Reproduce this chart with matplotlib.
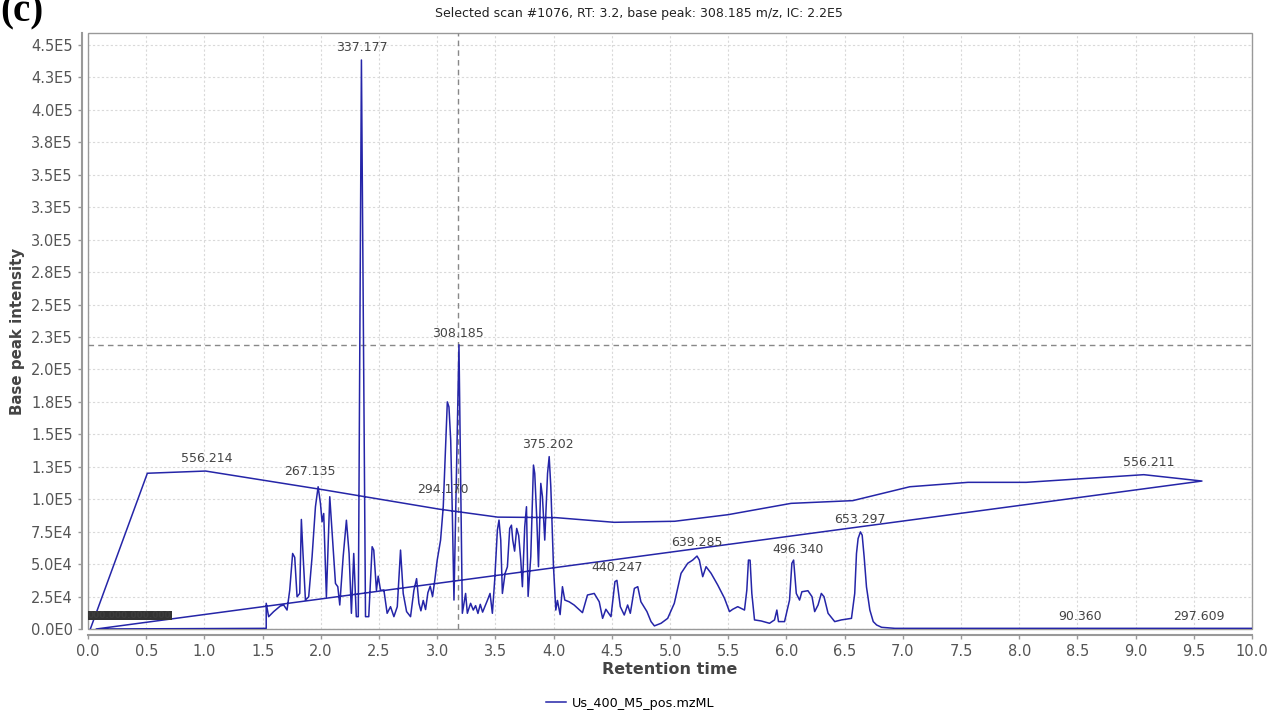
import matplotlib
matplotlib.use('Agg')
import matplotlib.pyplot as plt
from matplotlib.patches import Rectangle

# --- data (RT in min, base peak intensity in 1e3 counts)
# scans that are drawn out of order: they make the big loop across the plot
loop_rt = [0.02, 0.51, 1.01, 1.52, 2.02, 2.52, 3.02, 3.52, 4.02, 4.52, 5.04, 5.50,
           6.04, 6.57, 7.06, 7.56, 8.06, 9.07, 9.57, 0.07, 1.531]
loop_bpi = [0, 120.0, 121.7, 114.4, 107.3, 99.8, 92.3, 86.2, 85.8, 82.2, 83.0, 88.1,
            96.8, 98.9, 109.6, 113.0, 113.0, 118.9, 114.0, 0, 0.5]

# the real trace
trace_rt = [1.531, 1.531, 1.552, 1.595, 1.652, 1.681, 1.710, 1.733, 1.758, 1.776, 1.796,
            1.819, 1.833, 1.847, 1.868, 1.896, 1.925, 1.954, 1.977, 1.997, 2.011, 2.025,
            2.048, 2.077, 2.100, 2.126, 2.146, 2.163, 2.192, 2.220, 2.243, 2.263, 2.283,
            2.305, 2.322, 2.349, 2.384, 2.412, 2.441, 2.455, 2.478, 2.493, 2.513, 2.542,
            2.570, 2.599, 2.628, 2.657, 2.685, 2.708, 2.737, 2.771, 2.800, 2.823, 2.843,
            2.860, 2.880, 2.900, 2.920, 2.940, 2.960, 2.980, 3.000, 3.029, 3.052, 3.072,
            3.087, 3.101, 3.116, 3.130, 3.144, 3.187, 3.216, 3.244, 3.259, 3.287, 3.310,
            3.330, 3.350, 3.370, 3.390, 3.431, 3.454, 3.474, 3.494, 3.517, 3.531, 3.546,
            3.560, 3.583, 3.603, 3.623, 3.638, 3.649, 3.665, 3.683, 3.700, 3.718, 3.732,
            3.752, 3.767, 3.781, 3.804, 3.827, 3.838, 3.856, 3.870, 3.890, 3.904, 3.924,
            3.948, 3.962, 3.976, 3.999, 4.019, 4.033, 4.056, 4.076, 4.096, 4.133, 4.176,
            4.248, 4.291, 4.349, 4.392, 4.421, 4.449, 4.493, 4.527, 4.544, 4.573, 4.607,
            4.636, 4.659, 4.694, 4.723, 4.750, 4.802, 4.837, 4.866, 4.923, 4.980, 5.037,
            5.095, 5.152, 5.195, 5.232, 5.252, 5.281, 5.310, 5.353, 5.410, 5.468, 5.511,
            5.539, 5.582, 5.640, 5.660, 5.674, 5.688, 5.703, 5.726, 5.783, 5.855, 5.898,
            5.918, 5.932, 5.984, 6.027, 6.047, 6.062, 6.085, 6.113, 6.133, 6.185, 6.220,
            6.243, 6.272, 6.300, 6.323, 6.358, 6.415, 6.472, 6.559, 6.587, 6.602, 6.616,
            6.636, 6.651, 6.668, 6.688, 6.717, 6.746, 6.775, 6.818, 6.933, 10.0]
trace_bpi = [0.5, 19.8, 9.5, 13.4, 17.7, 18.5, 14.6, 29.9, 58.2, 55.2, 24.8,
             27.4, 84.4, 58.2, 22.3, 24.8, 55.6, 94.2, 109.6, 96.7, 82.6, 89.0,
             24.8, 101.9, 71.1, 35.1, 32.6, 18.5, 55.6, 83.8, 58.2, 12.1, 58.2,
             9.5, 9.5, 438.4, 9.5, 9.5, 63.4, 60.8, 29.9, 40.7, 29.9, 29.9,
             12.1, 17.2, 9.5, 17.2, 60.8, 27.4, 13.4, 9.5, 29.9, 38.8, 19.8,
             14.0, 22.0, 15.0, 28.0, 33.0, 25.0, 38.0, 53.0, 68.5, 94.2, 140.4,
             175.0, 171.1, 145.5, 89.0, 22.3, 219.0, 12.1, 27.4, 12.1, 19.8, 14.6,
             18.0, 12.0, 19.0, 13.0, 22.0, 27.4, 12.1, 37.7, 76.2, 83.9, 68.5,
             27.4, 42.8, 47.9, 77.5, 80.0, 68.5, 60.0, 77.5, 72.0, 53.1, 32.6,
             78.8, 94.2, 25.1, 55.9, 126.3, 119.9, 84.0, 48.0, 112.2, 102.1, 68.5,
             119.9, 132.8, 109.6, 48.0, 14.6, 22.0, 11.1, 32.6, 22.3, 21.0, 18.5,
             12.6, 26.2, 27.4, 21.0, 8.2, 15.2, 9.5, 36.5, 37.5, 17.2, 10.8,
             18.5, 12.1, 31.3, 32.6, 21.0, 13.4, 5.7, 2.4, 4.4, 8.2, 19.8,
             42.9, 50.6, 53.1, 56.2, 53.1, 40.3, 48.0, 42.9, 33.9, 23.7, 13.4,
             15.2, 17.2, 14.6, 30.0, 53.1, 53.0, 27.4, 7.0, 6.2, 4.4, 7.0,
             14.6, 5.7, 5.7, 22.3, 50.6, 53.1, 27.4, 22.3, 28.7, 29.5, 24.9,
             13.4, 18.5, 27.4, 24.9, 12.1, 5.7, 7.0, 8.2, 27.4, 58.1, 69.7,
             74.8, 72.3, 55.5, 32.4, 14.6, 5.7, 3.1, 1.3, 0.5, 0.5]

# peak labels (m/z) and where they sit
peak_mz = ['337.177', '308.185', '556.214', '267.135', '294.170', '375.202', '440.247',
           '639.285', '496.340', '653.297', '556.211', '90.360', '297.609']
peak_rt = [2.349, 3.176, 1.024, 1.91, 3.046, 3.95, 4.544, 5.232, 6.10, 6.635, 9.114, 8.52, 9.544]
peak_y = [448.4, 227.3, 131.0, 121.0, 107.1, 141.8, 47.0, 66.3, 61.6, 84.7, 127.9, 10.0, 10.0]

# labels of the early scans, all printed on top of each other near RT 0
pile_text = '000.000.000.000'
pile_rt = 0.0
pile_y = 10.4

sel_rt = 3.18
sel_bpi = 219.0

yticks = [0, 25, 50, 75, 100, 125, 150, 175, 200, 225, 250, 275, 300, 325, 350, 375, 400, 425, 450]
ytick_labels = ['0.0E0', '2.5E4', '5.0E4', '7.5E4', '1.0E5', '1.3E5', '1.5E5', '1.8E5', '2.0E5',
                '2.3E5', '2.5E5', '2.8E5', '3.0E5', '3.3E5', '3.5E5', '3.8E5', '4.0E5', '4.3E5', '4.5E5']
xticks = [0.0, 0.5, 1.0, 1.5, 2.0, 2.5, 3.0, 3.5, 4.0, 4.5, 5.0, 5.5, 6.0, 6.5, 7.0, 7.5, 8.0, 8.5, 9.0, 9.5, 10.0]

line_col = '#2525a8'
txt_col = '#444444'

fig = plt.figure(figsize=(12.78, 7.15), dpi=100)
ax = fig.add_axes([88/1278, 1-629/715, (1252-88)/1278, (629-33)/715])

ax.plot(loop_rt + trace_rt, [v*1e3 for v in loop_bpi + trace_bpi], color=line_col, lw=1.1,
        label='Us_400_M5_pos.mzML', zorder=3)

# crosshair on the selected scan
ax.axvline(sel_rt, color='#888888', lw=1.0, dashes=(4, 3), zorder=2)
ax.axhline(sel_bpi*1e3, color='#888888', lw=1.0, dashes=(4, 3), zorder=2)

for lab, x, y in zip(peak_mz, peak_rt, peak_y):
    ax.text(x, y*1e3, lab, ha='center', va='center', fontsize=9, color=txt_col, zorder=4)

ax.text(pile_rt, pile_y*1e3, pile_text, ha='left', va='center', fontsize=6.5, color='#3c3c3c',
        fontweight='bold', zorder=4,
        bbox=dict(boxstyle='square,pad=0.0', facecolor='#333333', edgecolor='none'))

ax.set_xlim(0, 10)
ax.set_ylim(0, 459.2e3)
ax.set_xticks(xticks)
ax.set_xticklabels(['%.1f' % v for v in xticks])
ax.set_yticks([v*1e3 for v in yticks])
ax.set_yticklabels(ytick_labels)

ax.grid(True, color='#d9d9d9', lw=0.8, dashes=(2, 2))
ax.set_axisbelow(True)

for s in ['top', 'right']:
    ax.spines[s].set_visible(False)
ax.spines['left'].set_position(('outward', 4.5))
ax.spines['bottom'].set_position(('outward', 4.5))
for s in ['left', 'bottom']:
    ax.spines[s].set_color('#999999')
    ax.spines[s].set_linewidth(1.5)
ax.add_patch(Rectangle((0, 0), 1, 1, transform=ax.transAxes, fill=False,
                       edgecolor='#999999', lw=1.0, clip_on=False, zorder=1))
ax.tick_params(axis='both', colors='#999999', labelcolor='#555555', labelsize=10.5,
               length=3, width=1)

ax.set_xlabel('Retention time', fontsize=11.5, fontweight='bold', color='#444444', labelpad=2)
ax.set_ylabel('Base peak intensity', fontsize=10.8, fontweight='bold', color='#444444', labelpad=4)

fig.text(0.5, 1-13/715, 'Selected scan #1076, RT: 3.2, base peak: 308.185 m/z, IC: 2.2E5',
         ha='center', va='center', fontsize=9, color='#222222')
fig.text(0.0, 1+7/715, '(c)', ha='left', va='top', fontsize=28, fontweight='bold',
         family='Liberation Serif', color='black')

fig.legend(loc='center', bbox_to_anchor=(0.493, 1-703/715), frameon=False, fontsize=9.2,
           handlelength=1.6, handletextpad=0.4)

fig.savefig('out.png', dpi=100)
